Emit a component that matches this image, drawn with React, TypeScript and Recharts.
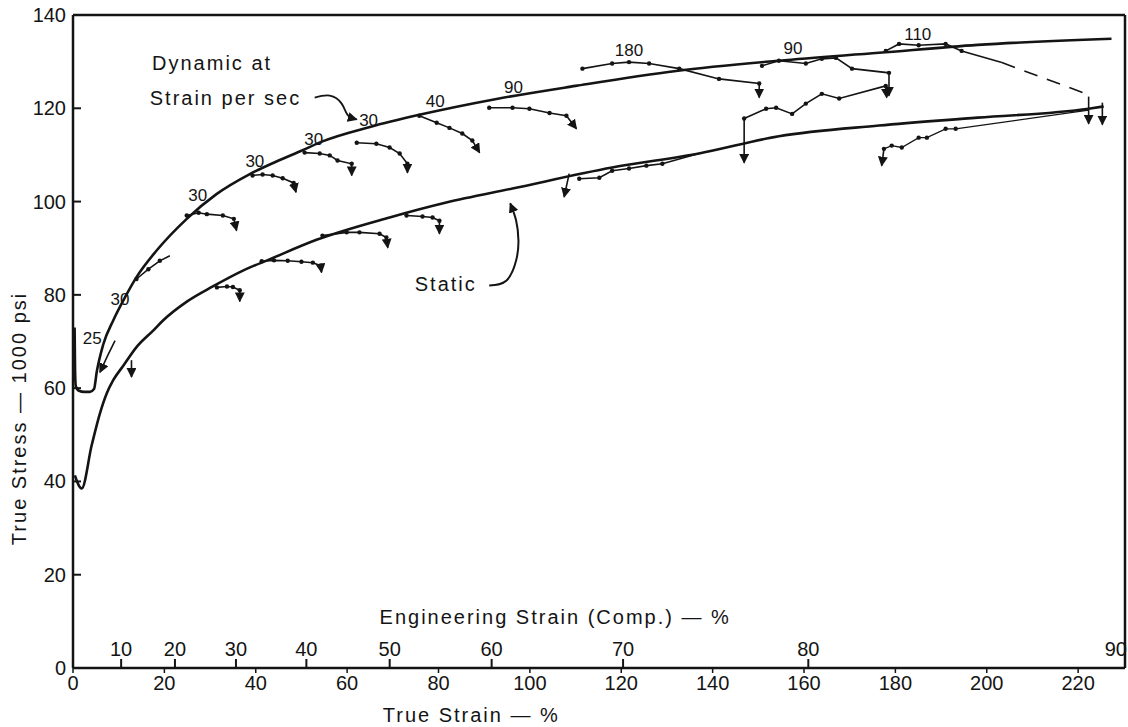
import React from "react";
import { LineChart, Line, XAxis, YAxis, ReferenceDot } from "recharts";

const FONT = '"Liberation Sans", Arial, sans-serif';
const INK = "#141414";

// axes
const trueStrainTicks = [0, 20, 40, 60, 80, 100, 120, 140, 160, 180, 200, 220];
const engStrainTicks = [10, 20, 30, 40, 50, 60, 70, 80, 90];
const stressTicks = [0, 20, 40, 60, 80, 100, 120, 140];
const frameTicks = [20, 40, 60, 80, 100, 120, 140, 160, 180, 200, 220];

// main curves: [true strain %, true stress 1000 psi]
const dynamicCurve = [
  [0.35, 73], [0.45, 64], [0.6, 60.5], [1.2, 59.5], [2.5, 59.2], [3.7, 59.2], [4.6, 59.8],
  [5.2, 63.5], [6.6, 69.3], [8.8, 74.5], [11.4, 79.5], [13.9, 83.8], [18.3, 89.5],
  [24.9, 96.3], [31.4, 101.6], [38.7, 105.9], [45, 108.8], [50, 110.9], [54.6, 112.9],
  [65, 116], [75.8, 118.6], [92.7, 122], [110, 124.8], [132, 128], [154.5, 130.2],
  [176.4, 131.9], [198, 133.6], [227.3, 134.9],
];
const staticCurve = [
  [0.4, 41.3], [1.9, 38.5], [4.1, 47.8], [5.9, 54.6], [7.4, 58.9], [8.8, 61.7], [11, 64.8],
  [13.9, 68.8], [17.6, 72.4], [19.7, 74.5], [25, 78.6], [30.6, 81.8], [37.2, 85.2],
  [43, 87.6], [53.3, 91.8], [69.3, 96.6], [81.7, 99.8], [96.2, 102.8], [118, 107.3],
  [137, 110.3], [154.5, 114], [176.4, 116.3], [198, 118], [222.3, 119.9], [225.6, 120.4],
];

// dynamic test branches
const dyn25 = [[9.2, 70.2], [7.5, 66.8], [5.9, 63.4]];
const dyn30a = [[13.9, 83.4], [16.5, 85.5], [19, 87.3], [21.2, 88.4]];
const dyn30b = [[24.9, 97], [27.5, 97.6], [29.3, 97.3], [32.8, 97], [35.2, 96.3], [35.8, 93.8]];
const dyn30c = [[39.3, 105.6], [41.5, 105.8], [43.7, 105.6], [45.9, 105], [48.3, 104], [48.8, 102]];
const dyn30d = [[50.7, 110.5], [54, 110.3], [56.2, 109.9], [57.9, 108.8], [61, 108.1], [61, 105.6]];
const dyn30e = [[62.1, 112.6], [66.4, 112.4], [69.3, 111.6], [71.5, 110.3], [73.2, 108.1], [73.2, 106.2]];
const dyn40 = [[75.8, 118.4], [79.6, 116.9], [82.4, 115.8], [85.2, 114.6], [87.4, 113.1], [89, 110.5]];
const dyn90a = [[91.1, 120.1], [96.2, 120.1], [99.9, 119.9], [104.3, 119], [108, 118.4], [110.2, 115.6]];
const dyn180 = [[111.5, 128.5], [118, 129.6], [121.7, 129.9], [126.1, 129.6], [132.7, 128.5], [141.4, 126.3], [150.2, 125.3], [150.2, 122.3]];
const dyn90b = [[150.8, 129.1], [154.5, 130.2], [160.4, 129.6], [163.9, 130.6], [167, 130.8], [170.5, 128.5], [178.6, 127.6], [178.6, 122.7]];
const dynWavy = [[146.9, 117.8], [151.7, 119.9], [153.9, 120.1], [157.4, 118.8], [160.4, 121], [163.9, 123.1], [167.7, 122.1], [177.9, 124.8], [178.1, 122.3]];
const dynDrop = [[146.9, 117.8], [146.9, 108.3]];
const dyn110 = [[177.9, 132.3], [180.8, 133.8], [185.1, 133.5], [191, 133.8], [194.5, 132.3], [203.3, 129.8]];
const dyn110Tail = [[203.3, 129.8], [221.5, 123.2]];
const endDropA = [[222.3, 122.5], [222.3, 116.7]];
const endDropB = [[225.3, 121.2], [225.3, 116.5]];

// static test branches
const stA = [[12.8, 66], [12.8, 62.4]];
const stB = [[31.5, 81.6], [33.7, 81.8], [35, 81.7], [36.5, 81], [36.5, 78.6]];
const stC = [[41.3, 87.2], [44, 87.4], [47, 87.3], [50, 87.1], [52.5, 86.9], [54.2, 86.3], [54.4, 84.8]];
const stD = [[54.6, 92.7], [59.9, 93.4], [62.7, 93.4], [67.1, 93.1], [68.6, 92.3], [68.9, 90.1]];
const stE = [[73, 97], [76.5, 96.8], [78.7, 96.6], [80.2, 95.9], [80.2, 93.1]];
const stFDrop = [[108.6, 106], [107.5, 101]];
const stF = [[110.8, 104.9], [115.2, 105.1], [118, 106.6], [121.7, 107.1], [125.5, 107.7], [129, 108.1], [137, 110.3]];
const stHDrop = [[177.5, 111.3], [177, 107.7]];
const stH = [[177.5, 111.3], [179.2, 112], [181.4, 111.6], [185.1, 113.7], [186.9, 113.7], [191, 115.6], [193.2, 115.6], [222.3, 119.6]];

// annotation arrows
const rateArrow = [[52.9, 122.3], [56.2, 122.7], [58.8, 121], [60.1, 118.6], [62.1, 117.6]];
const staticArrow = [[91.1, 82], [94.9, 83.1], [97, 87.4], [97.5, 91.6], [97, 95.9], [95.7, 99.6]];

const pts = (a: number[][]) => a.map(([x, y]) => ({ x, y }));
const engToTrue = (e: number) => -100 * Math.log(1 - e / 100);
const trueToEng = (t: number) => Math.round((1 - Math.exp(-t / 100)) * 100);
const X_MAX = engToTrue(90);

const dotsExceptLast = (n: number) => (p: any) =>
  p.index < n - 1 ? (
    <circle key={p.index} cx={p.cx} cy={p.cy} r={2.2} fill={INK} />
  ) : (
    <g key={p.index} />
  );

const LeftTick = (props: any) => {
  const { x, y, payload } = props;
  return (
    <g>
      <text x={x} y={y} dy={7} textAnchor="end" fontSize={20} fill={INK}>
        {payload.value}
      </text>
      <line x1={x + 7} y1={y} x2={x + 15} y2={y} stroke={INK} strokeWidth={2} />
    </g>
  );
};

// engineering strain labels sit above the axis; the last one hugs the right edge
const EngTick = (props: any) => {
  const { x, y, payload } = props;
  const last = payload.value > X_MAX - 0.01;
  return (
    <text x={last ? x + 2 : x} y={y} textAnchor={last ? "end" : "middle"} fontSize={20} fill={INK}>
      {trueToEng(payload.value)}
    </text>
  );
};

type SeriesProps = {
  data: number[][];
  width?: number;
  dots?: boolean;
  arrow?: boolean;
  dash?: string;
  curve?: "linear" | "monotone" | "natural";
};

function series(key: string, { data, width = 1.6, dots = false, arrow = false, dash, curve = "linear" }: SeriesProps) {
  return (
    <Line
      key={key}
      data={pts(data)}
      dataKey="y"
      xAxisId="x"
      yAxisId="y"
      type={curve}
      stroke={INK}
      strokeWidth={width}
      strokeDasharray={dash}
      dot={dots ? dotsExceptLast(data.length) : false}
      activeDot={false}
      markerEnd={arrow ? "url(#arrowhead)" : undefined}
      isAnimationActive={false}
    />
  );
}

const rateNotes = [
  { x: 4.2, y: 70.7, t: "25" },
  { x: 10.3, y: 79.2, t: "30" },
  { x: 27.3, y: 101.5, t: "30" },
  { x: 39.8, y: 108.6, t: "30" },
  { x: 52.7, y: 113.5, t: "30" },
  { x: 64.7, y: 117.6, t: "30" },
  { x: 79.3, y: 121.6, t: "40" },
  { x: 96.4, y: 124.6, t: "90" },
  { x: 121.7, y: 132.5, t: "180" },
  { x: 157.6, y: 133, t: "90" },
  { x: 184.9, y: 136, t: "110" },
];

const textNotes = [
  { x: 17.3, y: 129.8, t: "Dynamic  at" },
  { x: 16.8, y: 122.3, t: "Strain per  sec" },
  { x: 74.8, y: 82.4, t: "Static" },
  { x: 67.1, y: 10.9, t: "Engineering  Strain  (Comp.) — %" },
  { x: 67.8, y: -10.1, t: "True   Strain — %" },
];

export default function App() {
  return (
    <div style={{ fontFamily: FONT, width: 1128, height: 727, position: "absolute", left: 0, top: 0 }}>
      <svg width={0} height={0} style={{ position: "absolute" }}>
        <defs>
          <marker
            id="arrowhead"
            viewBox="0 0 10 10"
            refX={9}
            refY={5}
            markerWidth={10}
            markerHeight={10}
            markerUnits="userSpaceOnUse"
            orient="auto"
          >
            <path d="M0,0 L10,5 L0,10 z" fill={INK} />
          </marker>
        </defs>
      </svg>
      <LineChart width={1128} height={727} margin={{ top: 15, right: 3, bottom: 0, left: 0 }}>
        <XAxis
          xAxisId="eng"
          dataKey="x"
          type="number"
          orientation="bottom"
          mirror
          height={1}
          domain={[0, X_MAX]}
          allowDataOverflow
          ticks={engStrainTicks.map(engToTrue)}
          interval={0}
          tickSize={9}
          tickMargin={3}
          axisLine={false}
          tickLine={{ stroke: INK, strokeWidth: 2 }}
          tick={<EngTick />}
        />
        <XAxis
          xAxisId="x"
          dataKey="x"
          type="number"
          domain={[0, X_MAX]}
          allowDataOverflow
          ticks={trueStrainTicks}
          interval={0}
          height={59}
          tickSize={5}
          tickMargin={3}
          axisLine={{ stroke: INK, strokeWidth: 2.5 }}
          tickLine={{ stroke: INK, strokeWidth: 1.5 }}
          tick={{ fill: INK, fontSize: 20 }}
        />
        <XAxis
          xAxisId="top"
          dataKey="x"
          type="number"
          orientation="top"
          mirror
          height={1}
          domain={[0, X_MAX]}
          allowDataOverflow
          ticks={frameTicks}
          interval={0}
          tickSize={9}
          tick={false}
          axisLine={{ stroke: INK, strokeWidth: 2.5 }}
          tickLine={{ stroke: INK, strokeWidth: 2 }}
        />
        <YAxis
          yAxisId="y"
          type="number"
          domain={[0, 140]}
          allowDataOverflow
          ticks={stressTicks}
          interval={0}
          width={73}
          tickSize={0}
          tickMargin={7}
          tickLine={false}
          axisLine={{ stroke: INK, strokeWidth: 2.5 }}
          tick={<LeftTick />}
        />
        <YAxis
          yAxisId="r"
          type="number"
          orientation="right"
          mirror
          width={1}
          domain={[0, 140]}
          allowDataOverflow
          ticks={stressTicks}
          interval={0}
          tickSize={10}
          tick={false}
          axisLine={{ stroke: INK, strokeWidth: 2.5 }}
          tickLine={{ stroke: INK, strokeWidth: 2 }}
        />

        {/* invisible copies so the frame axes get a domain */}
        <Line data={pts(staticCurve)} dataKey="y" xAxisId="eng" yAxisId="r" stroke="none" dot={false} activeDot={false} isAnimationActive={false} />
        <Line data={pts(staticCurve)} dataKey="y" xAxisId="top" yAxisId="r" stroke="none" dot={false} activeDot={false} isAnimationActive={false} />

        {series("dynamic", { data: dynamicCurve, width: 2.6, curve: "monotone" })}
        {series("static", { data: staticCurve, width: 2.6, curve: "monotone" })}

        {series("dyn25", { data: dyn25, arrow: true })}
        {series("dyn30a", { data: dyn30a, dots: true })}
        {series("dyn30b", { data: dyn30b, dots: true, arrow: true })}
        {series("dyn30c", { data: dyn30c, dots: true, arrow: true })}
        {series("dyn30d", { data: dyn30d, dots: true, arrow: true })}
        {series("dyn30e", { data: dyn30e, dots: true, arrow: true })}
        {series("dyn40", { data: dyn40, dots: true, arrow: true })}
        {series("dyn90a", { data: dyn90a, dots: true, arrow: true })}
        {series("dyn180", { data: dyn180, dots: true, arrow: true })}
        {series("dyn90b", { data: dyn90b, dots: true, arrow: true })}
        {series("dynWavy", { data: dynWavy, dots: true, arrow: true })}
        {series("dynDrop", { data: dynDrop, arrow: true })}
        {series("dyn110", { data: dyn110, dots: true })}
        {series("dyn110Tail", { data: dyn110Tail, dash: "14 10" })}
        {series("endDropA", { data: endDropA, arrow: true })}
        {series("endDropB", { data: endDropB, arrow: true })}

        {series("stA", { data: stA, arrow: true })}
        {series("stB", { data: stB, dots: true, arrow: true })}
        {series("stC", { data: stC, dots: true, arrow: true })}
        {series("stD", { data: stD, dots: true, arrow: true })}
        {series("stE", { data: stE, dots: true, arrow: true })}
        {series("stFDrop", { data: stFDrop, arrow: true })}
        {series("stF", { data: stF, dots: true })}
        {series("stHDrop", { data: stHDrop, arrow: true })}
        {series("stH", { data: stH, dots: true, width: 1.3 })}

        {series("rateArrow", { data: rateArrow, arrow: true, width: 1.8, curve: "natural" })}
        {series("staticArrow", { data: staticArrow, arrow: true, width: 2, curve: "natural" })}

        {rateNotes.map((n, i) => (
          <ReferenceDot
            key={"r" + i}
            xAxisId="x"
            yAxisId="y"
            x={n.x}
            y={n.y}
            r={0}
            ifOverflow="visible"
            label={{ value: n.t, position: "center", fontSize: 17, fill: INK }}
          />
        ))}
        {textNotes.map((n, i) => (
          <ReferenceDot
            key={"t" + i}
            xAxisId="x"
            yAxisId="y"
            x={n.x}
            y={n.y}
            r={0}
            ifOverflow="visible"
            label={{ value: n.t, position: "right", offset: 0, fontSize: 20, fill: INK, letterSpacing: 2 }}
          />
        ))}
        <ReferenceDot
          xAxisId="x"
          yAxisId="y"
          x={-11.8}
          y={53.5}
          r={0}
          ifOverflow="visible"
          label={{
            value: "True  Stress  —  1000 psi",
            position: "center",
            angle: -90,
            fontSize: 20,
            fill: INK,
            letterSpacing: 2,
          }}
        />
      </LineChart>
    </div>
  );
}
